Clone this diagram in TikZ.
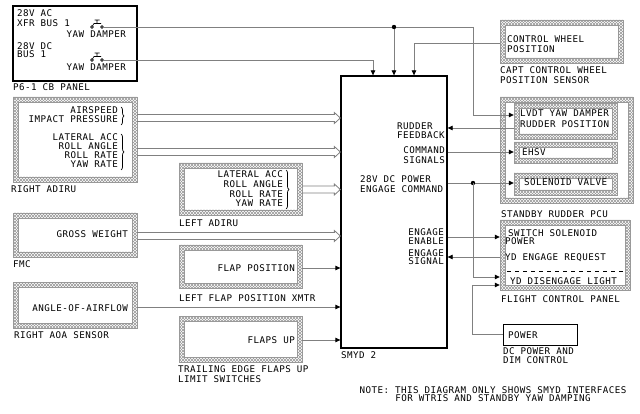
\documentclass[tikz,border=0pt]{standalone}
\usepackage{fontspec}
\newfontfamily\cadfont[LetterSpace=5]{DejaVu Sans Mono}
\usetikzlibrary{arrows.meta,patterns,decorations.pathreplacing,fit,calc}
\definecolor{linegray}{HTML}{808080}
\definecolor{hatchgray}{HTML}{999999}
\tikzset{
  txt/.style={font=\cadfont\fontsize{9.2}{9.2}\selectfont, inner sep=0pt, anchor=base west},
  txtr/.style={txt, anchor=base east},
  txtc/.style={txt, anchor=base},
  conn/.style={draw=linegray, line width=0.8pt},
  arr/.style={conn, -{Triangle[length=5pt,width=4.5pt,color=black]}},
  hollow/.style={draw=linegray, line width=0.8pt, line join=miter},
  blk/.style={draw=black, line width=1.3pt},
  jdot/.style={circle, fill=black, inner sep=0pt, minimum size=4.4pt},
  brc/.style={draw=black, line width=0.7pt, decorate, decoration={brace, amplitude=3pt}},
}
\newcommand\hatchbox[5]{%
  \fill[pattern=north east lines, pattern color=hatchgray, even odd rule] (#2,#3) rectangle (#4,#5) (#2+5,#3+5) rectangle (#4-5,#5-5);
  \fill[pattern=north west lines, pattern color=hatchgray, even odd rule] (#2,#3) rectangle (#4,#5) (#2+5,#3+5) rectangle (#4-5,#5-5);
  \draw[hatchgray, line width=0.3pt] (#2,#3) rectangle (#4,#5) (#2+5,#3+5) rectangle (#4-5,#5-5);
  \node[fit={(#2,#3) (#4,#5)}, inner sep=0pt] (#1) {};
}
\newcommand\hollowarrow[2]{%
  \draw[hollow] let \p1=(#1), \p2=(#2) in
   (\x1,\y1+3.5pt) -- (\x2-6pt,\y1+3.5pt) -- (\x2-6pt,\y1+5.5pt) -- (\x2,\y1)
   -- (\x2-6pt,\y1-5.5pt) -- (\x2-6pt,\y1-3.5pt) -- (\x1,\y1-3.5pt);}
\newcommand\cbsym[3]{%
  \node[inner sep=0pt, minimum width=12pt, minimum height=8pt] (#1) at (#2,#3-3) {};
  \draw[black, line width=0.6pt] (#2-5,#3) circle (1.4) (#2+5,#3) circle (1.4);
  \draw[black, line width=0.6pt] (#2-4.5,#3-1) -- (#2-3,#3-3.5) -- (#2+4,#3-3.5)
     (#2,#3-3.5) -- (#2,#3-7) (#2-2.5,#3-7) -- (#2+2.5,#3-7);
}
\begin{document}
\begin{tikzpicture}[x=1pt,y=-1pt]
\fill[white] (0,0) rectangle (640,414);
\useasboundingbox (0,0) rectangle (640,414);

% ---------- P6-1 CB panel ----------
\node[blk, fit={(13,6) (137,81)}, inner sep=0pt] (cbp) {};
\node[txt] (cbt1) at (17,17) {28V AC};
\node[txt] (cbt2) at (17,26.5) {XFR BUS 1};
\node[txtr] (cbt3) at (126,37.5) {YAW DAMPER};
\node[txt] (cbt4) at (17,50) {28V DC};
\node[txt] (cbt5) at (17,58) {BUS 1};
\node[txtr] (cbt6) at (126,71) {YAW DAMPER};
\node[txt] (cbl) at (13,91) {P6-1 CB PANEL};
\cbsym{cb1}{97}{27}
\cbsym{cb2}{97}{60}
\coordinate (cb1o) at (103.4,27);
\coordinate (cb2o) at (103.4,60);

% ---------- left sources ----------
\hatchbox{adiruR}{13}{97}{137}{182}
\node[txtr] (ra1) at (118,113.5) {AIRSPEED};
\node[txtr] (ra2) at (118,123) {IMPACT PRESSURE};
\node[txtr] (ra3) at (118,141) {LATERAL ACC};
\node[txtr] (ra4) at (118,150) {ROLL ANGLE};
\node[txtr] (ra5) at (118,159) {ROLL RATE};
\node[txtr] (ra6) at (118,168) {YAW RATE};
\draw[brc] (121,107) -- (121,125);
\draw[brc] (121,134) -- (121,170);
\node[txt] (ral) at (11,193) {RIGHT ADIRU};

\hatchbox{adiruL}{179}{163}{302}{215}
\node[txtr] (la1) at (283,178) {LATERAL ACC};
\node[txtr] (la2) at (283,188) {ROLL ANGLE};
\node[txtr] (la3) at (283,197.5) {ROLL RATE};
\node[txtr] (la4) at (283,207) {YAW RATE};
\draw[brc] (286,170) -- (286,209);
\node[txt] (lal) at (179,227) {LEFT ADIRU};

\hatchbox{fmc}{13}{213}{137}{257}
\node[txtr] (fm1) at (128,238) {GROSS WEIGHT};
\node[txt] (fml) at (13,268) {FMC};

\hatchbox{flap}{179}{245}{302}{288}
\node[txtr] (fp1) at (295,272) {FLAP POSITION};
\node[txt] (fpl) at (179,301) {LEFT FLAP POSITION XMTR};

\hatchbox{aoa}{13}{282}{137}{328}
\node[txtr] (ao1) at (128,311) {ANGLE-OF-AIRFLOW};
\node[txt] (aol) at (14,338) {RIGHT AOA SENSOR};

\hatchbox{tef}{179}{316}{302}{362}
\node[txtr] (te1) at (295,343) {FLAPS UP};
\node[txt] (tel1) at (178,372) {TRAILING EDGE FLAPS UP};
\node[txt] (tel2) at (178,382) {LIMIT SWITCHES};

% ---------- SMYD ----------
\node[blk, fit={(341,76) (447,348)}, inner sep=0pt] (smyd) {};
\node[txt] (sm1) at (397,130) {RUDDER};
\node[txt] (sm2) at (397,139) {FEEDBACK};
\node[txtr] (sm3) at (445,154) {COMMAND};
\node[txtr] (sm4) at (445,164) {SIGNALS};
\node[txt] (sm5) at (360,183) {28V DC POWER};
\node[txt] (sm6) at (360,192.5) {ENGAGE COMMAND};
\node[txtr] (sm7) at (444,236) {ENGAGE};
\node[txtr] (sm8) at (444,245) {ENABLE};
\node[txtr] (sm9) at (444,256) {ENGAGE};
\node[txtr] (sm10) at (444,265) {SIGNAL};
\node[txt] (sml) at (341,358) {SMYD 2};

% ---------- right side ----------
\hatchbox{cw}{500}{20}{623}{63}
\node[txt] (cw1) at (507,42.5) {CONTROL WHEEL};
\node[txt] (cw2) at (507,52.5) {POSITION};
\node[txt] (cwl1) at (500,74) {CAPT CONTROL WHEEL};
\node[txt] (cwl2) at (500,84) {POSITION SENSOR};

\hatchbox{pcu}{500}{97}{633}{203}
\hatchbox{lvdt}{514}{103}{617}{139}
\node[txt] (lv1) at (520,117) {LVDT YAW DAMPER};
\node[txt] (lv2) at (520,128) {RUDDER POSITION};
\hatchbox{ehsv}{514}{142}{617}{163}
\node[txt] (eh1) at (522,156) {EHSV};
\hatchbox{sol}{514}{173}{617}{195}
\node[txt] (so1) at (524,186) {SOLENOID VALVE};
\node[txt] (pcul) at (501,218) {STANDBY RUDDER PCU};
\draw[hatchgray, line width=0.5pt] (501.5,121) circle (1.6);

\hatchbox{fcp}{500}{220}{630}{290}
\node[txt] (fc1) at (508,236.5) {SWITCH SOLENOID};
\node[txt] (fc2) at (505,245) {POWER};
\node[txt] (fc3) at (505,261) {YD ENGAGE REQUEST};
\draw[black, line width=0.6pt, dash pattern=on 4pt off 4pt] (507,271) -- (626,271);
\node[txt] (fc4) at (510,284) {YD DISENGAGE LIGHT};
\node[txt] (fcl) at (501,302) {FLIGHT CONTROL PANEL};

\node[draw=black, line width=1pt, fit={(503,324) (577,345)}, inner sep=0pt] (pwr) {};
\node[txt] (pw1) at (508,338) {POWER};
\node[txt] (pwl1) at (503,354) {DC POWER AND};
\node[txt] (pwl2) at (503,363) {DIM CONTROL};

\node[txtc] (note1) at (493,393) {NOTE: THIS DIAGRAM ONLY SHOWS SMYD INTERFACES};
\node[txtc] (note2) at (493,401.5) {FOR WTRIS AND STANDBY YAW DAMPING};

% ---------- connectors ----------
\coordinate (yA1) at (0,118);
\coordinate (yA2) at (0,152);
\coordinate (yA3) at (0,189.5);
\coordinate (yGW) at (0,236);
\coordinate (yFP) at (0,268);
\coordinate (yAO) at (0,307);
\coordinate (yFU) at (0,340);
\hollowarrow{adiruR.east |- yA1}{smyd.west |- yA1}
\hollowarrow{adiruR.east |- yA2}{smyd.west |- yA2}
\hollowarrow{adiruL.east |- yA3}{smyd.west |- yA3}
\hollowarrow{fmc.east |- yGW}{smyd.west |- yGW}
\draw[arr] (flap.east |- yFP) -- (smyd.west |- yFP);
\draw[arr] (aoa.east |- yAO) -- (smyd.west |- yAO);
\draw[arr] (tef.east |- yFU) -- (smyd.west |- yFU);

% top
\coordinate (j1) at (473,27);
\coordinate (d1) at (394,27);
\coordinate (t2) at (373,60);
\coordinate (t3) at (414,43);
\coordinate (yLV) at (0,115);
\draw[conn] (cb1o) -- (j1);
\draw[arr] (j1) |- (lvdt.west |- yLV);
\draw[arr] (d1) -- (d1 |- smyd.north);
\node[jdot] (d1n) at (d1) {};
\draw[arr] (cb2o) -- (t2) -- (t2 |- smyd.north);
\draw[arr] (cw.west |- t3) -- (t3) -- (t3 |- smyd.north);

% right
\coordinate (yRF) at (0,128);
\coordinate (yCS) at (0,152);
\coordinate (yPW) at (0,183);
\coordinate (yEE) at (0,237);
\coordinate (yES) at (0,257);
\coordinate (yDL) at (0,277);
\coordinate (d2) at (473,183);
\coordinate (pb) at (472,285);
\draw[arr] (lvdt.west |- yRF) -- (smyd.east |- yRF);
\draw[arr] (smyd.east |- yCS) -- (ehsv.west |- yCS);
\draw[arr] (smyd.east |- yPW) -- (sol.west |- yPW);
\node[jdot] (d2n) at (d2) {};
\draw[arr] (d2) |- (fcp.west |- yDL);
\draw[arr] (smyd.east |- yEE) -- (fcp.west |- yEE);
\draw[arr] (fcp.west |- yES) -- (smyd.east |- yES);
\draw[arr] (pwr.west) -| (pb) -- (fcp.west |- pb);
\end{tikzpicture}
\end{document}
